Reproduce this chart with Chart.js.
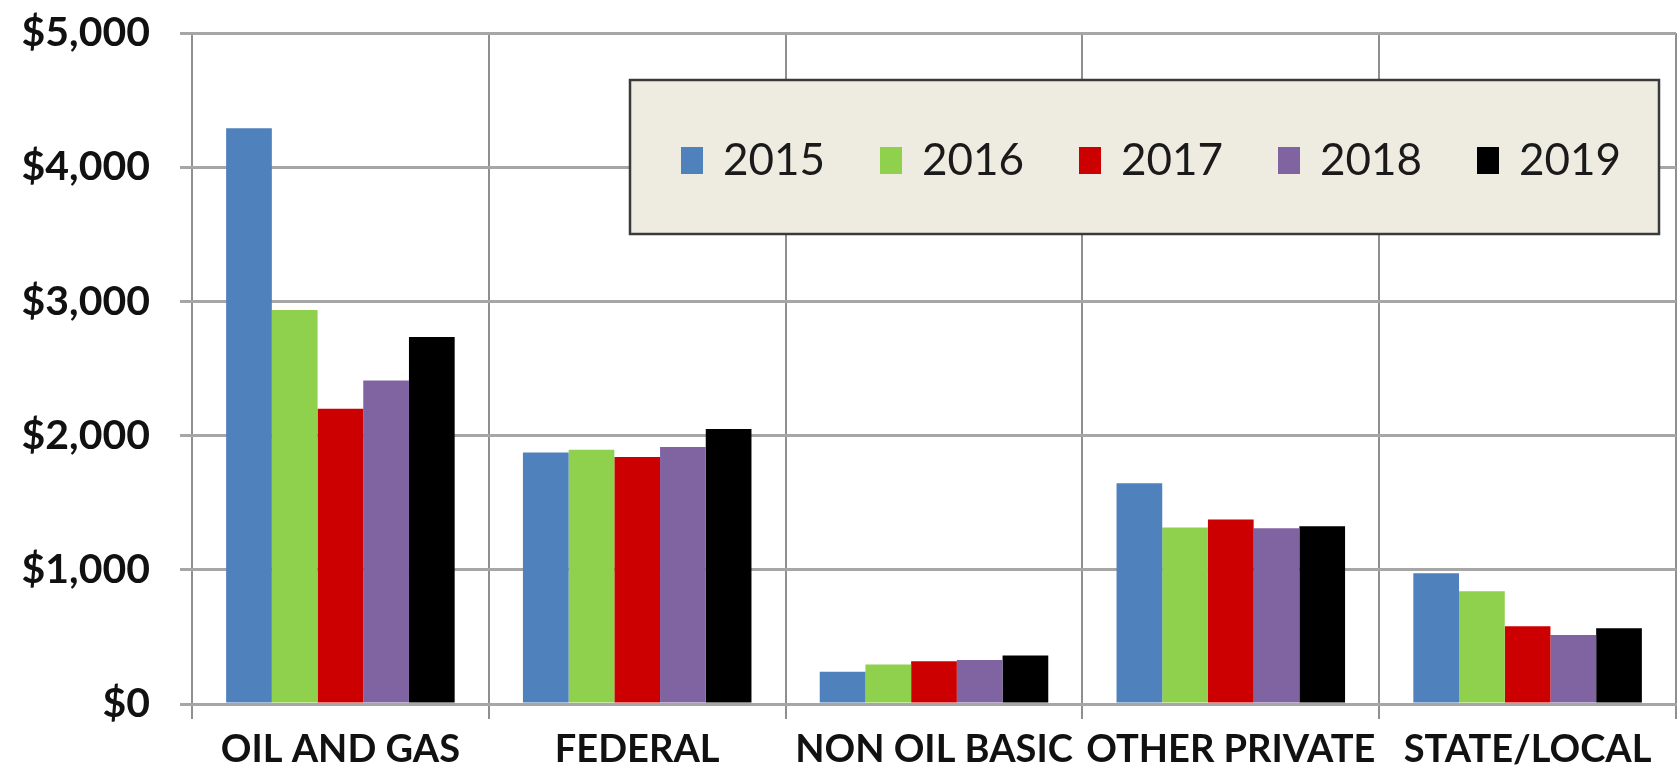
<!DOCTYPE html>
<html>
<head>
<meta charset="utf-8">
<script src="https://cdn.jsdelivr.net/npm/chart.js@4/dist/chart.umd.min.js"></script>
<style>
    html, body { margin: 0; padding: 0; background: #fff; }
    #wrap { width: 1680px; height: 779px; }
</style>
</head>
<body>
<div id="wrap"><canvas id="spendChart"></canvas></div>
<script>
const categories = ['OIL AND GAS', 'FEDERAL', 'NON OIL BASIC', 'OTHER PRIVATE', 'STATE/LOCAL'];
const years = ['2015', '2016', '2017', '2018', '2019'];

const v2015 = [4290, 1875, 240, 1645, 975];
const v2016 = [2935, 1895, 295, 1315, 840];
const v2017 = [2200, 1840, 318, 1375, 580];
const v2018 = [2410, 1915, 328, 1310, 515];
const v2019 = [2735, 2050, 362, 1325, 565];

const yMin = 0;
const yMax = 5000;
const yStep = 1000;

const colors = ['#4F81BD', '#8FD04C', '#CC0000', '#8064A2', '#000000'];
const series = [v2015, v2016, v2017, v2018, v2019];

// legend box drawn inside the plot, on top of the grid
const boxLegend = {
    id: 'boxLegend',
    afterDraw(chart) {
        const ctx = chart.ctx;
        const x = 630, y = 80, w = 1029, h = 154;
        ctx.save();
        ctx.fillStyle = '#EEECE1';
        ctx.fillRect(x, y, w, h);
        ctx.strokeStyle = '#3a3a3a';
        ctx.lineWidth = 2.5;
        ctx.strokeRect(x, y, w, h);

        ctx.font = '44px Lato';
        ctx.textBaseline = 'middle';
        ctx.textAlign = 'left';
        chart.data.datasets.forEach((ds, i) => {
            const bx = 681 + i * 199;
            ctx.fillStyle = ds.backgroundColor;
            ctx.fillRect(bx, 147, 22, 27);
            ctx.fillStyle = '#1a1a1a';
            ctx.fillText(ds.label, bx + 42, 161);
        });
        ctx.restore();
    }
};

const ctx = document.getElementById('spendChart').getContext('2d');
const chart = new Chart(ctx, {
    type: 'bar',
    data: {
        labels: categories,
        datasets: years.map((yr, i) => ({
            label: yr,
            data: series[i],
            backgroundColor: colors[i],
            borderWidth: 0,
            categoryPercentage: 0.77,
            barPercentage: 1.0
        }))
    },
    options: {
        responsive: true,
        maintainAspectRatio: false,
        animation: false,
        layout: { padding: { top: 33, right: 4, left: 0, bottom: 0 } },
        plugins: {
            legend: { display: false },
            title: { display: false },
            tooltip: { enabled: false }
        },
        scales: {
            x: {
                afterFit(s) { s.height = 75; },
                grid: {
                    offset: true,
                    color: '#8f8f8f',
                    lineWidth: 2,
                    tickLength: 15
                },
                border: { color: '#a6a6a6', width: 3 },
                ticks: {
                    color: '#111',
                    padding: 8,
                    font: { family: 'Lato', size: 38, weight: 'bold' }
                }
            },
            y: {
                min: yMin,
                max: yMax,
                afterFit(s) {
                    s.width = 192;
                    // labels may overhang the plot top, do not reserve room for them
                    s.paddingTop = 0;
                    s.paddingBottom = 0;
                },
                grid: {
                    color: '#a6a6a6',
                    lineWidth: 3,
                    tickLength: 12
                },
                border: { display: false },
                ticks: {
                    stepSize: yStep,
                    color: '#111',
                    padding: 30,
                    font: { family: 'Lato', size: 41, weight: 'bold' },
                    callback: v => '$' + v.toLocaleString('en-US')
                }
            }
        }
    },
    plugins: [boxLegend]
});
</script>
</body>
</html>
